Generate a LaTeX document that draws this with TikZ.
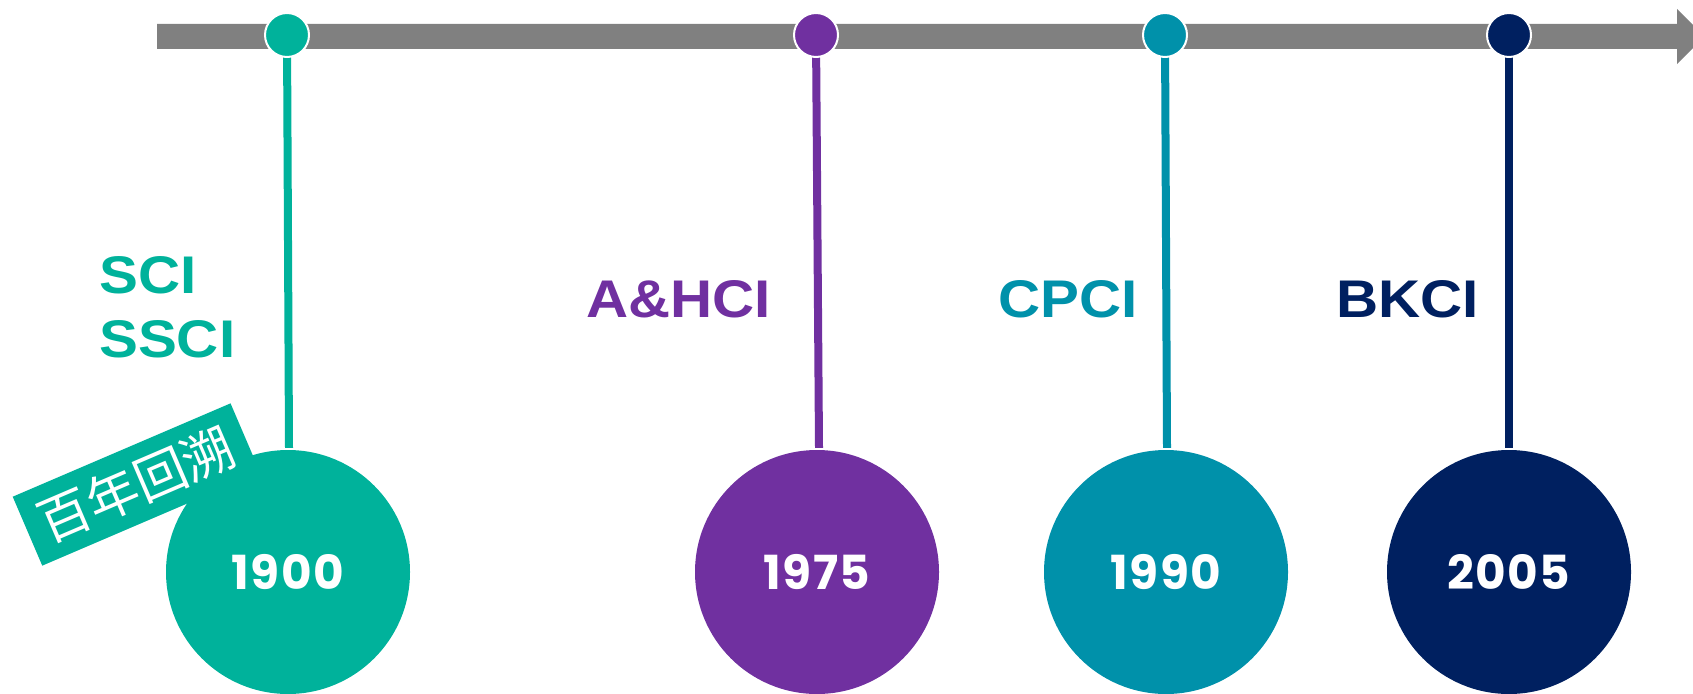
\documentclass[tikz,border=0pt]{standalone}
\usepackage{fontspec}
\usetikzlibrary{calc}
\newfontfamily\hv{Liberation Sans}[FakeStretch=1.1]
\newfontfamily\yr{Poppins}[LetterSpace=3]
\newfontfamily\cjk{Noto Sans CJK SC}
\definecolor{cA}{RGB}{0,178,155}
\definecolor{cB}{RGB}{112,48,160}
\definecolor{cC}{RGB}{0,145,170}
\definecolor{cD}{RGB}{0,32,96}
\definecolor{barg}{RGB}{128,128,128}
\pgfdeclarelayer{bg}
\pgfsetlayers{bg,main}
\tikzset{
  dot/.style={circle, draw=white, line width=2pt, minimum size=44pt, inner sep=0pt},
  big/.style={circle, minimum size=244pt, inner sep=0pt, text=white, font=\yr\bfseries\fontsize{47}{47}\selectfont},
  stem/.style={line width=8pt},
  lab/.style={anchor=base west, inner sep=0pt, font=\hv\bfseries\fontsize{53}{53}\selectfont},
}
\begin{document}
\begin{tikzpicture}[x=1pt,y=-1pt]
\useasboundingbox (0,0) rectangle (1693,693);
% timeline bar
\fill[barg] (157,24) -- (1677,24) -- (1677,9) -- (1704.5,36.5) -- (1677,64) -- (1677,49) -- (157,49) -- cycle;
% events
\node[dot, fill=cA] (s1) at (287,35) {};
\node[dot, fill=cB] (s2) at (816,35) {};
\node[dot, fill=cC] (s3) at (1165,35) {};
\node[dot, fill=cD] (s4) at (1509,35) {};
\node[big, fill=cA] (b1) at (288,572) {1900};
\node[big, fill=cB] (b2) at (817,572) {1975};
\node[big, fill=cC] (b3) at (1166,572) {1990};
\node[big, fill=cD] (b4) at (1509,572) {2005};
\begin{pgfonlayer}{bg}
\draw[stem, cA] (s1.center) -- ([xshift=1pt,yshift=2pt]b1.north);
\draw[stem, cB] (s2.center) -- ([xshift=2pt,yshift=2pt]b2.north);
\draw[stem, cC] (s3.center) -- ([xshift=1pt,yshift=2pt]b3.north);
\draw[stem, cD] (s4.center) -- ([yshift=2pt]b4.north);
\end{pgfonlayer}
% labels
\node[lab, text=cA] (l1a) at (99,293) {SCI};
\node[lab, text=cA] (l1b) at (99,357) {SSCI};
\node[lab, text=cB] (l2) at (586,317) {A\&HCI};
\node[lab, text=cC] (l3) at (998,317) {CPCI};
\node[lab, text=cD] (l4) at (1336,317) {BKCI};
% banner
\node[fill=cA, rotate=23.2, minimum width=237pt, minimum height=75pt, inner sep=0pt, text=white, font=\cjk\fontsize{52}{52}\selectfont] (ban) at (136.4,484.5) {百年回溯};
\end{tikzpicture}
\end{document}
